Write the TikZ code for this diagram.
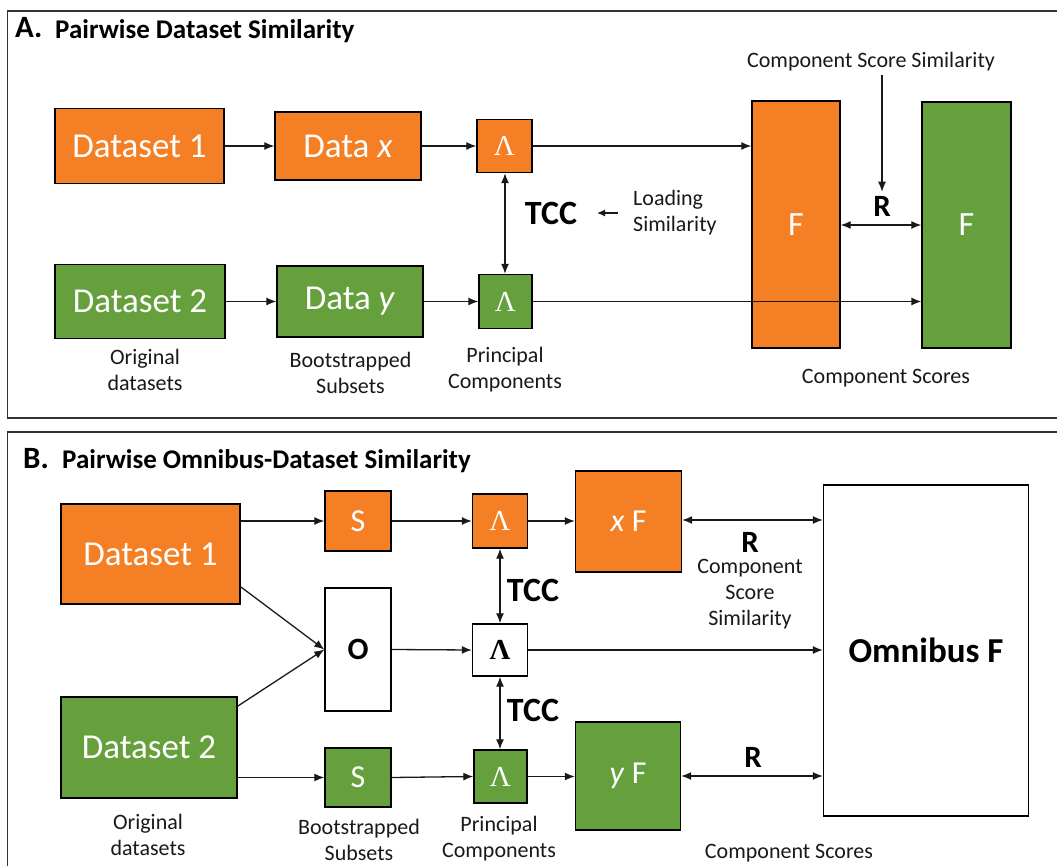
\documentclass[tikz,border=0pt]{standalone}
\usepackage{fontspec}
\newfontfamily\calib{Carlito}
\newfontfamily\lamfont{Liberation Serif}
\usetikzlibrary{arrows.meta}
\definecolor{orng}{RGB}{244,127,36}
\definecolor{grn}{RGB}{101,160,61}
\definecolor{lnc}{RGB}{25,25,25}
\newcommand{\fsz}[2]{\fontsize{#1}{#2}\selectfont}
\begin{document}
\begin{tikzpicture}[x=1pt,y=-1pt,
  box/.style={draw=black,line width=1.4pt,inner sep=0pt,text=white,anchor=center},
  ob/.style={box,fill=orng},
  gb/.style={box,fill=grn},
  wb/.style={box,fill=white,text=black},
  arr/.style={-{Latex[length=10pt,width=8pt]},line width=1.3pt,draw=lnc},
  darr/.style={{Latex[length=10pt,width=8pt]}-{Latex[length=10pt,width=8pt]},line width=1.3pt,draw=lnc},
  lbl/.style={font=\calib\fsz{22}{26},align=center,text=lnc,inner sep=0pt},
  big/.style={font=\calib\fsz{35}{40}},
  lam/.style={font=\lamfont\fsz{29}{30}},
  bold/.style={font=\calib\bfseries\fsz{#1}{#1},text=black,inner sep=0pt},
  frame/.style={draw=black!80,line width=1.4pt}
]
\useasboundingbox (0,0) rectangle (1057,866);
\fill[white] (0,0) rectangle (1057,866);
% frames
\draw[frame] (7.5,11) rectangle (1058,418);
\draw[frame] (7.5,432) rectangle (1058,872);

% ---------- Panel A ----------
\node[anchor=base west,inner sep=0pt,font=\calib\bfseries\fsz{31}{31}] (tA) at (15,38) {A.};
\node[anchor=base west,bold=27] (tA2) at (55,39) {Pairwise Dataset Similarity};

\node[ob,big,minimum width=169pt,minimum height=75pt] (d1A) at (139.5,146) {Dataset 1};
\node[ob,big,minimum width=146pt,minimum height=68pt] (dxA) at (348,146) {Data \textit{x}};
\node[ob,lam,minimum width=55pt,minimum height=53pt] (lxA) at (504.5,146) {Λ};
\node[gb,big,minimum width=170pt,minimum height=74pt] (d2A) at (140,301.5) {Dataset 2};
\node[gb,big,minimum width=146pt,minimum height=71pt] (dyA) at (350,301.5) {Data \textit{y}};
\node[gb,lam,minimum width=53pt,minimum height=54pt] (lyA) at (505.5,301.5) {Λ};
\node[ob,big,font=\calib\fsz{34}{34},minimum width=88pt,minimum height=247pt] (f1A) at (796,224.5) {F};
\node[gb,big,font=\calib\fsz{34}{34},minimum width=89pt,minimum height=246pt] (f2A) at (966.5,225) {F};

\draw[arr] (d1A.east) -- (dxA.west);
\draw[arr] (dxA.east) -- (lxA.west);
\draw[arr] (lxA.east) -- (lxA.east -| f1A.west);
\draw[arr] (d2A.east) -- (dyA.west);
\draw[arr] (dyA.east) -- (lyA.west);
\draw[arr] (lyA.east) -- (lyA.east -| f2A.west);
\draw[darr] (lxA.south -| 505,0) -- (lyA.north -| 505,0);
\draw[darr] (f1A.east |- 0,225) -- (f2A.west |- 0,225);

\node[bold=34] (tccA) at (551,213) {TCC};
\node[lbl,anchor=west,align=left] (ldA) at (633,213) {Loading\\Similarity};
\coordinate (la1) at (618,213);
\coordinate (la2) at (597,213);
\draw[-{Latex[length=8pt,width=7pt]},line width=1.3pt,draw=lnc] (la1) -- (la2);

\node[lbl] (cssA) at (871,62) {Component Score Similarity};
\node[bold=31,inner sep=4pt] (RA) at (882,206) {R};
\draw[arr] (cssA.south -| RA.north) ++(0,3) -- (RA.north);

\node[lbl] (odA) at (145,370) {Original\\datasets};
\node[lbl] (bsA) at (350.5,373) {Bootstrapped\\Subsets};
\node[lbl] (pcA) at (505,370) {Principal\\Components};
\node[lbl] (csA) at (886,378) {Component Scores};

% ---------- Panel B ----------
\node[anchor=base west,inner sep=0pt,font=\calib\bfseries\fsz{31}{31}] (tB) at (23,468) {B.};
\node[anchor=base west,bold=27] (tB2) at (62,468) {Pairwise Omnibus-Dataset Similarity};

\node[ob,big,minimum width=179pt,minimum height=100pt] (d1B) at (150.5,554) {Dataset 1};
\node[gb,big,minimum width=176pt,minimum height=101pt] (d2B) at (149,747.5) {Dataset 2};
\node[ob,font=\calib\fsz{32}{32},minimum width=66pt,minimum height=60pt] (s1B) at (358,521) {S};
\node[wb,font=\calib\bfseries\fsz{31}{31},minimum width=66pt,minimum height=123pt] (oB) at (358,649.5) {O};
\node[gb,font=\calib\fsz{32}{32},minimum width=66pt,minimum height=59pt] (s2B) at (358,777.5) {S};
\node[ob,lam,minimum width=55pt,minimum height=54pt] (l1B) at (500,521) {Λ};
\node[wb,font=\lamfont\bfseries\fsz{29}{30},minimum width=55pt,minimum height=52pt] (lmB) at (500,650) {Λ};
\node[gb,lam,minimum width=53pt,minimum height=53pt] (l2B) at (500.5,776.5) {Λ};
\node[ob,font=\calib\fsz{32}{32},minimum width=106pt,minimum height=101pt] (xfB) at (628.5,521.5) {\textit{x} F};
\node[gb,font=\calib\fsz{32}{32},minimum width=105pt,minimum height=108pt] (yfB) at (628,776) {\textit{y} F};
\node[wb,font=\calib\bfseries\fsz{35}{35},minimum width=205pt,minimum height=331pt] (omB) at (926,650.5) {Omnibus F};

\draw[arr] (s1B.west -| d1B.east) -- (s1B.west);
\draw[arr] (s1B.east) -- (l1B.west);
\draw[arr] (l1B.east) -- (l1B.east -| xfB.west);
\draw[arr] (d1B.-20) -- (oB.west);
\draw[arr] (d2B.25) -- (oB.west);
\draw[arr] (oB.east) -- (lmB.west);
\draw[arr] (lmB.east) -- (lmB.east -| omB.west);
\draw[arr] (s2B.west -| d2B.east) -- (s2B.west);
\draw[arr] (s2B.east) -- (l2B.west);
\draw[arr] (l2B.east) -- (l2B.east -| yfB.west);
\draw[darr] (xfB.east |- 0,520) -- (omB.west |- 0,520);
\draw[darr] (yfB.east |- 0,776) -- (omB.west |- 0,776);
\draw[darr] (l1B.south -| 500,0) -- (lmB.north -| 500,0);
\draw[darr] (lmB.south -| 500,0) -- (l2B.north -| 500,0);

\node[bold=34] (tcc1B) at (533,590) {TCC};
\node[bold=34] (tcc2B) at (533,710) {TCC};
\node[bold=31] (R1B) at (750,542) {R};
\node[lbl] (cssB) at (750,594) {Component\\Score\\Similarity};
\node[bold=31] (R2B) at (753,757) {R};

\node[lbl] (odB) at (148,835) {Original\\datasets};
\node[lbl] (bsB) at (359,840) {Bootstrapped\\Subsets};
\node[lbl] (pcB) at (499,839) {Principal\\Components};
\node[lbl] (csB) at (789,853) {Component Scores};
\end{tikzpicture}
\end{document}
